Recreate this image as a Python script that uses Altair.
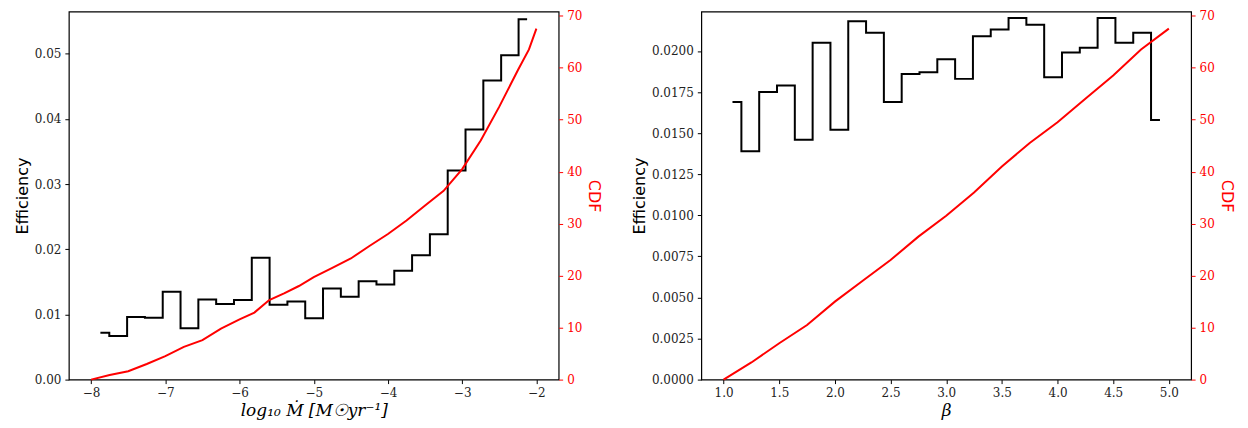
import altair as alt
import pandas as pd

# left panel: log10 Mdot
mdot_x = [-7.875, -7.635, -7.395, -7.155, -6.915, -6.675, -6.435, -6.195, -5.955,
          -5.715, -5.475, -5.235, -4.995, -4.755, -4.515, -4.275, -4.035, -3.795,
          -3.555, -3.315, -3.075, -2.835, -2.595, -2.355, -2.125]
mdot_eff = [0.0072, 0.0067, 0.0096, 0.0095, 0.0135, 0.0079, 0.0123, 0.0116, 0.0122,
            0.0187, 0.0115, 0.0120, 0.0094, 0.0140, 0.0127, 0.0151, 0.0146, 0.0167,
            0.0191, 0.0223, 0.0321, 0.0384, 0.0459, 0.0498, 0.0553]
mdot_cdf_x = [-8.0, -7.75, -7.5, -7.25, -7.0, -6.75, -6.5, -6.25, -6.0, -5.8, -5.6,
              -5.4, -5.2, -5.0, -4.75, -4.5, -4.25, -4.0, -3.75, -3.5, -3.25, -3.0,
              -2.75, -2.5, -2.25, -2.1, -2.0]
mdot_cdf = [0.0, 0.9, 1.6, 3.0, 4.5, 6.3, 7.6, 9.8, 11.6, 12.9, 15.3, 16.6, 18.0, 19.7,
            21.5, 23.3, 25.7, 28.0, 30.6, 33.5, 36.3, 40.5, 46.0, 52.5, 59.5, 63.5, 67.5]

# right panel: beta
beta_x = [1.08, 1.24, 1.40, 1.56, 1.72, 1.88, 2.04, 2.20, 2.36, 2.52, 2.68, 2.84, 3.00,
          3.16, 3.32, 3.48, 3.64, 3.80, 3.96, 4.12, 4.28, 4.44, 4.60, 4.76, 4.92]
beta_eff = [0.0169, 0.0139, 0.0175, 0.0179, 0.0146, 0.0205, 0.0152, 0.0218, 0.0211,
            0.0169, 0.0186, 0.0187, 0.0195, 0.0183, 0.0209, 0.0213, 0.0220, 0.0216,
            0.0184, 0.0199, 0.0202, 0.0220, 0.0205, 0.0211, 0.0158]
beta_cdf_x = [1.0, 1.25, 1.5, 1.75, 2.0, 2.25, 2.5, 2.75, 3.0, 3.25, 3.5, 3.75, 4.0,
              4.25, 4.5, 4.75, 5.0]
beta_cdf = [0.0, 3.3, 7.0, 10.5, 15.0, 19.0, 23.0, 27.5, 31.5, 36.0, 41.0, 45.5, 49.5,
            54.0, 58.5, 63.5, 67.5]

SERIF = "DejaVu Serif"
SANS = "DejaVu Sans"
W, H = 491, 369


def panel(hx, hy, cx, cy, xdom, ydom, yticks, yfmt, xticks, xtitle, xfmt):
    hist = pd.DataFrame({"x": hx, "eff": hy})
    cdf = pd.DataFrame({"x": cx, "cdf": cy})
    xenc = alt.X("x:Q", scale=alt.Scale(domain=xdom, nice=False, zero=False),
                 axis=alt.Axis(values=xticks, format=xfmt, title=xtitle,
                               titleFont=SERIF, titleFontSize=17,
                               titleFontWeight="normal", titleFontStyle="italic"))
    step = alt.Chart(hist).mark_line(interpolate="step", color="black",
                                     strokeWidth=2).encode(
        x=xenc,
        y=alt.Y("eff:Q", scale=alt.Scale(domain=ydom, nice=False),
                axis=alt.Axis(values=yticks, format=yfmt, title="Efficiency",
                              titleFont=SANS, titleFontSize=16,
                              titleFontWeight="normal")),
    )
    red = alt.Chart(cdf).mark_line(color="red", strokeWidth=2).encode(
        x=alt.X("x:Q"),
        y=alt.Y("cdf:Q", scale=alt.Scale(domain=[0, 70.8], nice=False),
                axis=alt.Axis(orient="right", values=list(range(0, 71, 10)),
                              title="CDF", titleColor="red", labelColor="red",
                              tickColor="red", titleFont=SANS, titleFontSize=16,
                              titleFontWeight="normal")),
    )
    return alt.layer(step, red).resolve_scale(y="independent").properties(
        width=W, height=H)


left = panel(mdot_x, mdot_eff, mdot_cdf_x, mdot_cdf, [-8.3, -1.7], [0, 0.0565],
             [0, 0.01, 0.02, 0.03, 0.04, 0.05], ".2f", [-8, -7, -6, -5, -4, -3, -2],
             "log₁₀ Ṁ  [M☉yr⁻¹]", "d")
right = panel(beta_x, beta_eff, beta_cdf_x, beta_cdf, [0.8, 5.2], [0, 0.0224],
              [i * 0.0025 for i in range(9)], ".4f",
              [1.0, 1.5, 2.0, 2.5, 3.0, 3.5, 4.0, 4.5, 5.0], "β", ".1f")

chart = alt.hconcat(left, right, spacing=28).properties(
    padding={"left": 5, "top": 0, "right": 5, "bottom": 5}
).configure_view(
    stroke="black", strokeWidth=1.2
).configure_axis(
    grid=False, labelFont=SERIF, labelFontSize=12, labelColor="#222",
    domain=False, tickColor="black", tickSize=4, labelPadding=4
)
chart.save("out.html", embed_options={"renderer": "svg", "actions": False})
